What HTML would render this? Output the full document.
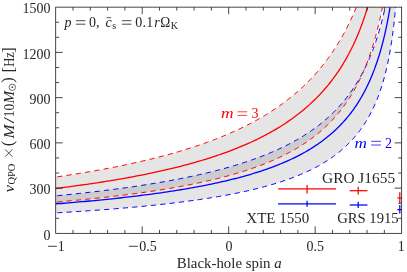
<!DOCTYPE html><html><head><meta charset="utf-8"><style>html,body{margin:0;padding:0;background:#fff}svg{display:block}text{font-family:"Liberation Serif",serif;font-size:14px;fill:#262626}.i{font-style:italic}</style></head><body>
<svg width="407" height="272" viewBox="0 0 407 272" style="will-change:transform">
<rect width="407" height="272" fill="#fff"/>
<defs><clipPath id="c"><rect x="55.70" y="7.15" width="345.95" height="226.20"/></clipPath></defs>
<g clip-path="url(#c)" fill="none">
<path d="M55.70,177.07 L58.37,176.68 L61.02,176.29 L63.67,175.89 L66.30,175.49 L68.92,175.08 L71.54,174.67 L74.14,174.26 L76.74,173.84 L79.32,173.42 L81.89,173.00 L84.45,172.57 L87.01,172.14 L89.55,171.70 L92.08,171.26 L94.60,170.82 L97.11,170.37 L99.61,169.92 L102.10,169.46 L104.58,169.00 L107.05,168.54 L109.51,168.07 L111.96,167.59 L114.40,167.11 L116.83,166.63 L119.25,166.14 L121.65,165.65 L124.05,165.16 L126.44,164.65 L128.82,164.15 L131.18,163.64 L133.54,163.12 L135.88,162.60 L138.22,162.07 L140.55,161.54 L142.86,161.01 L145.17,160.46 L147.46,159.92 L149.74,159.36 L152.02,158.81 L154.28,158.24 L156.53,157.68 L158.78,157.10 L161.01,156.52 L163.23,155.94 L165.44,155.35 L167.65,154.75 L169.84,154.15 L172.02,153.54 L174.19,152.92 L176.35,152.30 L178.50,151.67 L180.64,151.04 L182.77,150.40 L184.89,149.75 L187.00,149.10 L189.09,148.44 L191.18,147.77 L193.26,147.10 L195.33,146.42 L197.38,145.73 L199.43,145.04 L201.47,144.34 L203.49,143.63 L205.51,142.91 L207.52,142.19 L209.51,141.46 L211.50,140.72 L213.47,139.98 L215.44,139.22 L217.39,138.46 L219.33,137.69 L221.27,136.92 L223.19,136.13 L225.10,135.34 L227.01,134.53 L228.90,133.72 L230.78,132.90 L232.65,132.08 L234.51,131.24 L236.36,130.39 L238.20,129.54 L240.03,128.68 L241.85,127.80 L243.66,126.92 L245.46,126.03 L247.25,125.13 L249.03,124.22 L250.80,123.29 L252.56,122.36 L254.31,121.42 L256.04,120.47 L257.77,119.51 L259.49,118.53 L261.19,117.55 L262.89,116.56 L264.58,115.55 L266.25,114.53 L267.92,113.51 L269.57,112.47 L271.22,111.42 L272.85,110.35 L274.48,109.28 L276.09,108.19 L277.69,107.09 L279.29,105.98 L280.87,104.86 L282.44,103.72 L284.00,102.57 L285.56,101.41 L287.10,100.23 L288.63,99.04 L290.15,97.84 L291.66,96.62 L293.16,95.39 L294.65,94.14 L296.13,92.88 L297.60,91.61 L299.06,90.32 L300.51,89.01 L301.95,87.69 L303.37,86.36 L304.79,85.01 L306.20,83.64 L307.60,82.25 L308.98,80.85 L310.36,79.44 L311.73,78.00 L313.08,76.55 L314.43,75.08 L315.76,73.60 L317.09,72.09 L318.40,70.57 L319.71,69.03 L321.00,67.47 L322.29,65.89 L323.56,64.29 L324.82,62.68 L326.08,61.04 L327.32,59.38 L328.55,57.70 L329.77,56.00 L330.98,54.28 L332.19,52.54 L333.38,50.78 L334.56,48.99 L335.73,47.18 L336.89,45.35 L338.04,43.50 L339.18,41.62 L340.31,39.72 L341.42,37.79 L342.53,35.84 L343.63,33.86 L344.72,31.86 L345.80,29.83 L346.86,27.78 L347.92,25.70 L348.97,23.59 L350.00,21.45 L351.03,19.29 L352.05,17.09 L353.05,14.87 L354.05,12.62 L355.03,10.34 L356.01,8.03 L356.97,5.68 L357.92,3.31 L358.87,0.90 L359.80,-1.54 L360.72,-4.01 L361.64,-6.52 L362.54,-9.06 L363.43,-11.64 L364.31,-14.25 L365.18,-16.90 L366.04,-19.58 L366.90,-22.31 L367.74,-25.07 L368.57,-27.87 L369.39,-30.71 L370.19,-33.59 L370.99,-36.51 L371.78,-39.48 L372.56,-42.49 L373.33,-45.54 L374.09,-48.64 L374.84,-51.78 L375.57,-54.96 L376.30,-58.20 L377.02,-61.48 L377.72,-64.82 L378.42,-68.20 L379.10,-71.63 L379.78,-75.12 L380.44,-78.66 L381.10,-82.26 L381.74,-85.91 L382.38,-89.61 L383.00,-93.38 L383.62,-97.20 L384.22,-101.09 L384.81,-105.04 L385.39,-109.05 L385.97,-113.13 L386.53,-117.27 L387.08,-121.48 L387.62,-125.76 L388.15,-130.12 L388.67,-134.55 L389.18,-139.05 L389.68,-143.63 L390.17,-148.29 L390.65,-153.03 L391.12,-157.85 L391.58,-162.76 L392.03,-167.76 L392.47,-172.84 L392.90,-178.02 L393.31,-183.30 L393.72,-188.68 L394.12,-194.15 L394.51,-199.74 L394.88,-205.43 L395.25,-211.23 L395.60,-217.15 L395.95,-223.19 L396.28,-229.35 L396.61,-235.64 L396.92,-242.06 L397.23,-248.61 L397.52,-255.31 L397.80,-262.16 L398.08,-269.16 L398.34,-276.32 L398.59,-283.65 L398.84,-291.15 L399.07,-298.83 L399.29,-306.70 L399.50,-314.76 L399.70,-323.03 L399.89,-331.52 L400.07,-340.23 L400.24,-349.18 L400.40,-358.36 L400.55,-367.81 L400.69,-377.52 L400.82,-387.50 L400.94,-397.76 L401.05,-408.30 L401.15,-419.11 L401.23,-430.17 L401.31,-441.42 L401.38,-452.78 L401.43,-464.08 L401.48,-475.02 L401.52,-485.10 L401.54,-493.56 L401.56,-499.34 L401.56,-501.41 L401.56,-50.00 L406.65,-50.00 L406.65,-294.25 L401.56,-294.25 L401.56,-293.58 L401.54,-291.64 L401.52,-288.59 L401.48,-284.64 L401.43,-279.97 L401.38,-274.75 L401.31,-269.11 L401.23,-263.16 L401.15,-256.97 L401.05,-250.61 L400.94,-244.12 L400.82,-237.56 L400.69,-230.95 L400.55,-224.31 L400.40,-217.67 L400.24,-211.05 L400.07,-204.46 L399.89,-197.91 L399.70,-191.42 L399.50,-184.98 L399.29,-178.62 L399.07,-172.33 L398.84,-166.11 L398.59,-159.98 L398.34,-153.93 L398.08,-147.97 L397.80,-142.10 L397.52,-136.31 L397.23,-130.62 L396.92,-125.02 L396.61,-119.51 L396.28,-114.09 L395.95,-108.76 L395.60,-103.52 L395.25,-98.37 L394.88,-93.32 L394.51,-88.35 L394.12,-83.47 L393.72,-78.67 L393.31,-73.96 L392.90,-69.34 L392.47,-64.80 L392.03,-60.34 L391.58,-55.96 L391.12,-51.66 L390.65,-47.44 L390.17,-43.30 L389.68,-39.23 L389.18,-35.23 L388.67,-31.31 L388.15,-27.46 L387.62,-23.68 L387.08,-19.97 L386.53,-16.33 L385.97,-12.75 L385.39,-9.24 L384.81,-5.79 L384.22,-2.41 L383.62,0.92 L383.00,4.18 L382.38,7.39 L381.74,10.53 L381.10,13.63 L380.44,16.66 L379.78,19.64 L379.10,22.57 L378.42,25.45 L377.72,28.27 L377.02,31.05 L376.30,33.78 L375.57,36.46 L374.84,39.09 L374.09,41.67 L373.33,44.22 L372.56,46.71 L371.78,49.17 L370.99,51.58 L370.19,53.95 L369.39,56.28 L368.57,58.57 L367.74,60.82 L366.90,63.03 L366.04,65.21 L365.18,67.35 L364.31,69.45 L363.43,71.52 L362.54,73.55 L361.64,75.55 L360.72,77.52 L359.80,79.45 L358.87,81.35 L357.92,83.23 L356.97,85.07 L356.01,86.88 L355.03,88.66 L354.05,90.41 L353.05,92.14 L352.05,93.83 L351.03,95.51 L350.00,97.15 L348.97,98.77 L347.92,100.36 L346.86,101.93 L345.80,103.47 L344.72,104.99 L343.63,106.48 L342.53,107.95 L341.42,109.40 L340.31,110.83 L339.18,112.24 L338.04,113.62 L336.89,114.98 L335.73,116.32 L334.56,117.65 L333.38,118.95 L332.19,120.23 L330.98,121.49 L329.77,122.74 L328.55,123.96 L327.32,125.17 L326.08,126.36 L324.82,127.53 L323.56,128.69 L322.29,129.83 L321.00,130.95 L319.71,132.06 L318.40,133.15 L317.09,134.22 L315.76,135.28 L314.43,136.33 L313.08,137.36 L311.73,138.37 L310.36,139.37 L308.98,140.36 L307.60,141.33 L306.20,142.29 L304.79,143.24 L303.37,144.17 L301.95,145.09 L300.51,146.00 L299.06,146.89 L297.60,147.77 L296.13,148.64 L294.65,149.50 L293.16,150.35 L291.66,151.19 L290.15,152.01 L288.63,152.82 L287.10,153.63 L285.56,154.42 L284.00,155.20 L282.44,155.97 L280.87,156.73 L279.29,157.49 L277.69,158.23 L276.09,158.96 L274.48,159.68 L272.85,160.39 L271.22,161.10 L269.57,161.79 L267.92,162.48 L266.25,163.16 L264.58,163.82 L262.89,164.48 L261.19,165.14 L259.49,165.78 L257.77,166.41 L256.04,167.04 L254.31,167.66 L252.56,168.27 L250.80,168.88 L249.03,169.47 L247.25,170.06 L245.46,170.65 L243.66,171.22 L241.85,171.79 L240.03,172.35 L238.20,172.91 L236.36,173.45 L234.51,173.99 L232.65,174.53 L230.78,175.06 L228.90,175.58 L227.01,176.09 L225.10,176.60 L223.19,177.11 L221.27,177.61 L219.33,178.10 L217.39,178.58 L215.44,179.06 L213.47,179.54 L211.50,180.01 L209.51,180.47 L207.52,180.93 L205.51,181.38 L203.49,181.83 L201.47,182.27 L199.43,182.71 L197.38,183.14 L195.33,183.57 L193.26,183.99 L191.18,184.41 L189.09,184.83 L187.00,185.24 L184.89,185.64 L182.77,186.04 L180.64,186.43 L178.50,186.83 L176.35,187.21 L174.19,187.59 L172.02,187.97 L169.84,188.35 L167.65,188.72 L165.44,189.08 L163.23,189.44 L161.01,189.80 L158.78,190.16 L156.53,190.51 L154.28,190.85 L152.02,191.20 L149.74,191.53 L147.46,191.87 L145.17,192.20 L142.86,192.53 L140.55,192.86 L138.22,193.18 L135.88,193.50 L133.54,193.81 L131.18,194.12 L128.82,194.43 L126.44,194.73 L124.05,195.04 L121.65,195.33 L119.25,195.63 L116.83,195.92 L114.40,196.21 L111.96,196.50 L109.51,196.78 L107.05,197.06 L104.58,197.34 L102.10,197.62 L99.61,197.89 L97.11,198.16 L94.60,198.42 L92.08,198.69 L89.55,198.95 L87.01,199.21 L84.45,199.47 L81.89,199.72 L79.32,199.97 L76.74,200.22 L74.14,200.46 L71.54,200.71 L68.92,200.95 L66.30,201.19 L63.67,201.43 L61.02,201.66 L58.37,201.89 L55.70,202.12Z" fill="#000" fill-opacity="0.1"/>
<path d="M55.70,195.86 L58.37,195.60 L61.02,195.34 L63.67,195.07 L66.30,194.81 L68.92,194.54 L71.54,194.27 L74.14,193.99 L76.74,193.72 L79.32,193.44 L81.89,193.16 L84.45,192.88 L87.01,192.59 L89.55,192.30 L92.08,192.01 L94.60,191.71 L97.11,191.42 L99.61,191.12 L102.10,190.82 L104.58,190.51 L107.05,190.20 L109.51,189.89 L111.96,189.58 L114.40,189.26 L116.83,188.94 L119.25,188.62 L121.65,188.29 L124.05,187.96 L126.44,187.63 L128.82,187.30 L131.18,186.96 L133.54,186.62 L135.88,186.27 L138.22,185.92 L140.55,185.57 L142.86,185.22 L145.17,184.86 L147.46,184.50 L149.74,184.13 L152.02,183.76 L154.28,183.39 L156.53,183.01 L158.78,182.63 L161.01,182.25 L163.23,181.86 L165.44,181.47 L167.65,181.08 L169.84,180.68 L172.02,180.27 L174.19,179.87 L176.35,179.46 L178.50,179.04 L180.64,178.62 L182.77,178.20 L184.89,177.77 L187.00,177.34 L189.09,176.90 L191.18,176.46 L193.26,176.02 L195.33,175.57 L197.38,175.12 L199.43,174.66 L201.47,174.19 L203.49,173.73 L205.51,173.25 L207.52,172.77 L209.51,172.29 L211.50,171.80 L213.47,171.31 L215.44,170.81 L217.39,170.31 L219.33,169.80 L221.27,169.29 L223.19,168.77 L225.10,168.25 L227.01,167.72 L228.90,167.18 L230.78,166.64 L232.65,166.09 L234.51,165.54 L236.36,164.98 L238.20,164.42 L240.03,163.85 L241.85,163.27 L243.66,162.69 L245.46,162.10 L247.25,161.50 L249.03,160.90 L250.80,160.29 L252.56,159.68 L254.31,159.06 L256.04,158.43 L257.77,157.79 L259.49,157.15 L261.19,156.50 L262.89,155.85 L264.58,155.18 L266.25,154.51 L267.92,153.83 L269.57,153.15 L271.22,152.45 L272.85,151.75 L274.48,151.04 L276.09,150.33 L277.69,149.60 L279.29,148.87 L280.87,148.13 L282.44,147.38 L284.00,146.62 L285.56,145.85 L287.10,145.08 L288.63,144.29 L290.15,143.50 L291.66,142.69 L293.16,141.88 L294.65,141.06 L296.13,140.23 L297.60,139.39 L299.06,138.54 L300.51,137.68 L301.95,136.81 L303.37,135.92 L304.79,135.03 L306.20,134.13 L307.60,133.22 L308.98,132.29 L310.36,131.36 L311.73,130.41 L313.08,129.46 L314.43,128.49 L315.76,127.51 L317.09,126.52 L318.40,125.51 L319.71,124.50 L321.00,123.47 L322.29,122.42 L323.56,121.37 L324.82,120.30 L326.08,119.22 L327.32,118.13 L328.55,117.02 L329.77,115.90 L330.98,114.76 L332.19,113.62 L333.38,112.45 L334.56,111.27 L335.73,110.08 L336.89,108.87 L338.04,107.65 L339.18,106.41 L340.31,105.15 L341.42,103.88 L342.53,102.59 L343.63,101.28 L344.72,99.96 L345.80,98.62 L346.86,97.26 L347.92,95.89 L348.97,94.50 L350.00,93.08 L351.03,91.65 L352.05,90.20 L353.05,88.73 L354.05,87.25 L355.03,85.74 L356.01,84.21 L356.97,82.66 L357.92,81.08 L358.87,79.49 L359.80,77.87 L360.72,76.24 L361.64,74.58 L362.54,72.89 L363.43,71.18 L364.31,69.45 L365.18,67.70 L366.04,65.91 L366.90,64.11 L367.74,62.27 L368.57,60.41 L369.39,58.53 L370.19,56.61 L370.99,54.67 L371.78,52.70 L372.56,50.70 L373.33,48.67 L374.09,46.61 L374.84,44.51 L375.57,42.39 L376.30,40.23 L377.02,38.04 L377.72,35.82 L378.42,33.56 L379.10,31.27 L379.78,28.94 L380.44,26.57 L381.10,24.16 L381.74,21.72 L382.38,19.23 L383.00,16.71 L383.62,14.14 L384.22,11.53 L384.81,8.88 L385.39,6.18 L385.97,3.44 L386.53,0.65 L387.08,-2.19 L387.62,-5.08 L388.15,-8.02 L388.67,-11.02 L389.18,-14.06 L389.68,-17.17 L390.17,-20.33 L390.65,-23.55 L391.12,-26.83 L391.58,-30.17 L392.03,-33.57 L392.47,-37.05 L392.90,-40.59 L393.31,-44.20 L393.72,-47.88 L394.12,-51.64 L394.51,-55.48 L394.88,-59.40 L395.25,-63.40 L395.60,-67.49 L395.95,-71.67 L396.28,-75.94 L396.61,-80.31 L396.92,-84.78 L397.23,-89.35 L397.52,-94.04 L397.80,-98.84 L398.08,-103.75 L398.34,-108.80 L398.59,-113.97 L398.84,-119.27 L399.07,-124.72 L399.29,-130.32 L399.50,-136.08 L399.70,-142.00 L399.89,-148.09 L400.07,-154.36 L400.24,-160.83 L400.40,-167.49 L400.55,-174.37 L400.69,-181.46 L400.82,-188.78 L400.94,-196.34 L401.05,-204.13 L401.15,-212.16 L401.23,-220.40 L401.31,-228.84 L401.38,-237.39 L401.43,-245.94 L401.48,-254.25 L401.52,-261.94 L401.54,-268.42 L401.56,-272.86 L401.56,-274.46 L401.56,-50.00 L406.65,-50.00 L406.65,-273.14 L401.56,-273.14 L401.56,-270.18 L401.54,-262.04 L401.52,-250.37 L401.48,-236.82 L401.43,-222.56 L401.38,-208.31 L401.31,-194.43 L401.23,-181.13 L401.15,-168.48 L401.05,-156.49 L400.94,-145.15 L400.82,-134.44 L400.69,-124.31 L400.55,-114.72 L400.40,-105.65 L400.24,-97.04 L400.07,-88.86 L399.89,-81.08 L399.70,-73.68 L399.50,-66.62 L399.29,-59.88 L399.07,-53.43 L398.84,-47.26 L398.59,-41.35 L398.34,-35.67 L398.08,-30.22 L397.80,-24.98 L397.52,-19.94 L397.23,-15.07 L396.92,-10.38 L396.61,-5.85 L396.28,-1.48 L395.95,2.75 L395.60,6.85 L395.25,10.82 L394.88,14.66 L394.51,18.39 L394.12,22.01 L393.72,25.53 L393.31,28.95 L392.90,32.27 L392.47,35.51 L392.03,38.65 L391.58,41.72 L391.12,44.71 L390.65,47.62 L390.17,50.47 L389.68,53.24 L389.18,55.95 L388.67,58.59 L388.15,61.18 L387.62,63.70 L387.08,66.17 L386.53,68.59 L385.97,70.95 L385.39,73.27 L384.81,75.53 L384.22,77.75 L383.62,79.92 L383.00,82.05 L382.38,84.13 L381.74,86.18 L381.10,88.18 L380.44,90.15 L379.78,92.07 L379.10,93.97 L378.42,95.82 L377.72,97.64 L377.02,99.43 L376.30,101.19 L375.57,102.91 L374.84,104.61 L374.09,106.27 L373.33,107.90 L372.56,109.51 L371.78,111.09 L370.99,112.64 L370.19,114.16 L369.39,115.66 L368.57,117.14 L367.74,118.59 L366.90,120.01 L366.04,121.41 L365.18,122.79 L364.31,124.15 L363.43,125.49 L362.54,126.80 L361.64,128.09 L360.72,129.36 L359.80,130.62 L358.87,131.85 L357.92,133.06 L356.97,134.26 L356.01,135.43 L355.03,136.59 L354.05,137.73 L353.05,138.85 L352.05,139.96 L351.03,141.05 L350.00,142.12 L348.97,143.18 L347.92,144.22 L346.86,145.25 L345.80,146.26 L344.72,147.25 L343.63,148.23 L342.53,149.20 L341.42,150.15 L340.31,151.09 L339.18,152.02 L338.04,152.93 L336.89,153.83 L335.73,154.72 L334.56,155.59 L333.38,156.45 L332.19,157.30 L330.98,158.14 L329.77,158.96 L328.55,159.78 L327.32,160.58 L326.08,161.37 L324.82,162.15 L323.56,162.92 L322.29,163.68 L321.00,164.43 L319.71,165.17 L318.40,165.90 L317.09,166.62 L315.76,167.33 L314.43,168.03 L313.08,168.72 L311.73,169.40 L310.36,170.07 L308.98,170.73 L307.60,171.39 L306.20,172.03 L304.79,172.67 L303.37,173.30 L301.95,173.92 L300.51,174.53 L299.06,175.13 L297.60,175.73 L296.13,176.32 L294.65,176.90 L293.16,177.47 L291.66,178.04 L290.15,178.60 L288.63,179.15 L287.10,179.69 L285.56,180.23 L284.00,180.76 L282.44,181.28 L280.87,181.80 L279.29,182.31 L277.69,182.82 L276.09,183.31 L274.48,183.80 L272.85,184.29 L271.22,184.77 L269.57,185.24 L267.92,185.71 L266.25,186.17 L264.58,186.63 L262.89,187.08 L261.19,187.52 L259.49,187.96 L257.77,188.40 L256.04,188.83 L254.31,189.25 L252.56,189.67 L250.80,190.08 L249.03,190.49 L247.25,190.89 L245.46,191.29 L243.66,191.68 L241.85,192.07 L240.03,192.46 L238.20,192.84 L236.36,193.21 L234.51,193.58 L232.65,193.95 L230.78,194.31 L228.90,194.67 L227.01,195.02 L225.10,195.37 L223.19,195.72 L221.27,196.06 L219.33,196.40 L217.39,196.73 L215.44,197.06 L213.47,197.39 L211.50,197.71 L209.51,198.03 L207.52,198.34 L205.51,198.65 L203.49,198.96 L201.47,199.26 L199.43,199.57 L197.38,199.86 L195.33,200.16 L193.26,200.45 L191.18,200.73 L189.09,201.02 L187.00,201.30 L184.89,201.58 L182.77,201.85 L180.64,202.12 L178.50,202.39 L176.35,202.66 L174.19,202.92 L172.02,203.18 L169.84,203.44 L167.65,203.69 L165.44,203.94 L163.23,204.19 L161.01,204.44 L158.78,204.68 L156.53,204.92 L154.28,205.16 L152.02,205.39 L149.74,205.63 L147.46,205.86 L145.17,206.08 L142.86,206.31 L140.55,206.53 L138.22,206.75 L135.88,206.97 L133.54,207.19 L131.18,207.40 L128.82,207.61 L126.44,207.82 L124.05,208.03 L121.65,208.23 L119.25,208.44 L116.83,208.64 L114.40,208.83 L111.96,209.03 L109.51,209.22 L107.05,209.42 L104.58,209.61 L102.10,209.80 L99.61,209.98 L97.11,210.17 L94.60,210.35 L92.08,210.53 L89.55,210.71 L87.01,210.89 L84.45,211.06 L81.89,211.23 L79.32,211.41 L76.74,211.58 L74.14,211.74 L71.54,211.91 L68.92,212.08 L66.30,212.24 L63.67,212.40 L61.02,212.56 L58.37,212.72 L55.70,212.88Z" fill="#000" fill-opacity="0.1"/>
<path d="M55.70,212.88 L58.37,212.72 L61.02,212.56 L63.67,212.40 L66.30,212.24 L68.92,212.08 L71.54,211.91 L74.14,211.74 L76.74,211.58 L79.32,211.41 L81.89,211.23 L84.45,211.06 L87.01,210.89 L89.55,210.71 L92.08,210.53 L94.60,210.35 L97.11,210.17 L99.61,209.98 L102.10,209.80 L104.58,209.61 L107.05,209.42 L109.51,209.22 L111.96,209.03 L114.40,208.83 L116.83,208.64 L119.25,208.44 L121.65,208.23 L124.05,208.03 L126.44,207.82 L128.82,207.61 L131.18,207.40 L133.54,207.19 L135.88,206.97 L138.22,206.75 L140.55,206.53 L142.86,206.31 L145.17,206.08 L147.46,205.86 L149.74,205.63 L152.02,205.39 L154.28,205.16 L156.53,204.92 L158.78,204.68 L161.01,204.44 L163.23,204.19 L165.44,203.94 L167.65,203.69 L169.84,203.44 L172.02,203.18 L174.19,202.92 L176.35,202.66 L178.50,202.39 L180.64,202.12 L182.77,201.85 L184.89,201.58 L187.00,201.30 L189.09,201.02 L191.18,200.73 L193.26,200.45 L195.33,200.16 L197.38,199.86 L199.43,199.57 L201.47,199.26 L203.49,198.96 L205.51,198.65 L207.52,198.34 L209.51,198.03 L211.50,197.71 L213.47,197.39 L215.44,197.06 L217.39,196.73 L219.33,196.40 L221.27,196.06 L223.19,195.72 L225.10,195.37 L227.01,195.02 L228.90,194.67 L230.78,194.31 L232.65,193.95 L234.51,193.58 L236.36,193.21 L238.20,192.84 L240.03,192.46 L241.85,192.07 L243.66,191.68 L245.46,191.29 L247.25,190.89 L249.03,190.49 L250.80,190.08 L252.56,189.67 L254.31,189.25 L256.04,188.83 L257.77,188.40 L259.49,187.96 L261.19,187.52 L262.89,187.08 L264.58,186.63 L266.25,186.17 L267.92,185.71 L269.57,185.24 L271.22,184.77 L272.85,184.29 L274.48,183.80 L276.09,183.31 L277.69,182.82 L279.29,182.31 L280.87,181.80 L282.44,181.28 L284.00,180.76 L285.56,180.23 L287.10,179.69 L288.63,179.15 L290.15,178.60 L291.66,178.04 L293.16,177.47 L294.65,176.90 L296.13,176.32 L297.60,175.73 L299.06,175.13 L300.51,174.53 L301.95,173.92 L303.37,173.30 L304.79,172.67 L306.20,172.03 L307.60,171.39 L308.98,170.73 L310.36,170.07 L311.73,169.40 L313.08,168.72 L314.43,168.03 L315.76,167.33 L317.09,166.62 L318.40,165.90 L319.71,165.17 L321.00,164.43 L322.29,163.68 L323.56,162.92 L324.82,162.15 L326.08,161.37 L327.32,160.58 L328.55,159.78 L329.77,158.96 L330.98,158.14 L332.19,157.30 L333.38,156.45 L334.56,155.59 L335.73,154.72 L336.89,153.83 L338.04,152.93 L339.18,152.02 L340.31,151.09 L341.42,150.15 L342.53,149.20 L343.63,148.23 L344.72,147.25 L345.80,146.26 L346.86,145.25 L347.92,144.22 L348.97,143.18 L350.00,142.12 L351.03,141.05 L352.05,139.96 L353.05,138.85 L354.05,137.73 L355.03,136.59 L356.01,135.43 L356.97,134.26 L357.92,133.06 L358.87,131.85 L359.80,130.62 L360.72,129.36 L361.64,128.09 L362.54,126.80 L363.43,125.49 L364.31,124.15 L365.18,122.79 L366.04,121.41 L366.90,120.01 L367.74,118.59 L368.57,117.14 L369.39,115.66 L370.19,114.16 L370.99,112.64 L371.78,111.09 L372.56,109.51 L373.33,107.90 L374.09,106.27 L374.84,104.61 L375.57,102.91 L376.30,101.19 L377.02,99.43 L377.72,97.64 L378.42,95.82 L379.10,93.97 L379.78,92.07 L380.44,90.15 L381.10,88.18 L381.74,86.18 L382.38,84.13 L383.00,82.05 L383.62,79.92 L384.22,77.75 L384.81,75.53 L385.39,73.27 L385.97,70.95 L386.53,68.59 L387.08,66.17 L387.62,63.70 L388.15,61.18 L388.67,58.59 L389.18,55.95 L389.68,53.24 L390.17,50.47 L390.65,47.62 L391.12,44.71 L391.58,41.72 L392.03,38.65 L392.47,35.51 L392.90,32.27 L393.31,28.95 L393.72,25.53 L394.12,22.01 L394.51,18.39 L394.88,14.66 L395.25,10.82 L395.60,6.85 L395.95,2.75 L396.28,-1.48 L396.61,-5.85 L396.92,-10.38 L397.23,-15.07 L397.52,-19.94 L397.80,-24.98 L398.08,-30.22 L398.34,-35.67 L398.59,-41.35 L398.84,-47.26 L399.07,-53.43 L399.29,-59.88 L399.50,-66.62 L399.70,-73.68 L399.89,-81.08 L400.07,-88.86 L400.24,-97.04 L400.40,-105.65 L400.55,-114.72 L400.69,-124.31 L400.82,-134.44 L400.94,-145.15 L401.05,-156.49 L401.15,-168.48 L401.23,-181.13 L401.31,-194.43 L401.38,-208.31 L401.43,-222.56 L401.48,-236.82 L401.52,-250.37 L401.54,-262.04 L401.56,-270.18 L401.56,-273.14" stroke="#0000ff" stroke-width="1.0" stroke-dasharray="5.2 4.2" stroke-dashoffset="-1.5"/>
<path d="M55.70,195.86 L58.37,195.60 L61.02,195.34 L63.67,195.07 L66.30,194.81 L68.92,194.54 L71.54,194.27 L74.14,193.99 L76.74,193.72 L79.32,193.44 L81.89,193.16 L84.45,192.88 L87.01,192.59 L89.55,192.30 L92.08,192.01 L94.60,191.71 L97.11,191.42 L99.61,191.12 L102.10,190.82 L104.58,190.51 L107.05,190.20 L109.51,189.89 L111.96,189.58 L114.40,189.26 L116.83,188.94 L119.25,188.62 L121.65,188.29 L124.05,187.96 L126.44,187.63 L128.82,187.30 L131.18,186.96 L133.54,186.62 L135.88,186.27 L138.22,185.92 L140.55,185.57 L142.86,185.22 L145.17,184.86 L147.46,184.50 L149.74,184.13 L152.02,183.76 L154.28,183.39 L156.53,183.01 L158.78,182.63 L161.01,182.25 L163.23,181.86 L165.44,181.47 L167.65,181.08 L169.84,180.68 L172.02,180.27 L174.19,179.87 L176.35,179.46 L178.50,179.04 L180.64,178.62 L182.77,178.20 L184.89,177.77 L187.00,177.34 L189.09,176.90 L191.18,176.46 L193.26,176.02 L195.33,175.57 L197.38,175.12 L199.43,174.66 L201.47,174.19 L203.49,173.73 L205.51,173.25 L207.52,172.77 L209.51,172.29 L211.50,171.80 L213.47,171.31 L215.44,170.81 L217.39,170.31 L219.33,169.80 L221.27,169.29 L223.19,168.77 L225.10,168.25 L227.01,167.72 L228.90,167.18 L230.78,166.64 L232.65,166.09 L234.51,165.54 L236.36,164.98 L238.20,164.42 L240.03,163.85 L241.85,163.27 L243.66,162.69 L245.46,162.10 L247.25,161.50 L249.03,160.90 L250.80,160.29 L252.56,159.68 L254.31,159.06 L256.04,158.43 L257.77,157.79 L259.49,157.15 L261.19,156.50 L262.89,155.85 L264.58,155.18 L266.25,154.51 L267.92,153.83 L269.57,153.15 L271.22,152.45 L272.85,151.75 L274.48,151.04 L276.09,150.33 L277.69,149.60 L279.29,148.87 L280.87,148.13 L282.44,147.38 L284.00,146.62 L285.56,145.85 L287.10,145.08 L288.63,144.29 L290.15,143.50 L291.66,142.69 L293.16,141.88 L294.65,141.06 L296.13,140.23 L297.60,139.39 L299.06,138.54 L300.51,137.68 L301.95,136.81 L303.37,135.92 L304.79,135.03 L306.20,134.13 L307.60,133.22 L308.98,132.29 L310.36,131.36 L311.73,130.41 L313.08,129.46 L314.43,128.49 L315.76,127.51 L317.09,126.52 L318.40,125.51 L319.71,124.50 L321.00,123.47 L322.29,122.42 L323.56,121.37 L324.82,120.30 L326.08,119.22 L327.32,118.13 L328.55,117.02 L329.77,115.90 L330.98,114.76 L332.19,113.62 L333.38,112.45 L334.56,111.27 L335.73,110.08 L336.89,108.87 L338.04,107.65 L339.18,106.41 L340.31,105.15 L341.42,103.88 L342.53,102.59 L343.63,101.28 L344.72,99.96 L345.80,98.62 L346.86,97.26 L347.92,95.89 L348.97,94.50 L350.00,93.08 L351.03,91.65 L352.05,90.20 L353.05,88.73 L354.05,87.25 L355.03,85.74 L356.01,84.21 L356.97,82.66 L357.92,81.08 L358.87,79.49 L359.80,77.87 L360.72,76.24 L361.64,74.58 L362.54,72.89 L363.43,71.18 L364.31,69.45 L365.18,67.70 L366.04,65.91 L366.90,64.11 L367.74,62.27 L368.57,60.41 L369.39,58.53 L370.19,56.61 L370.99,54.67 L371.78,52.70 L372.56,50.70 L373.33,48.67 L374.09,46.61 L374.84,44.51 L375.57,42.39 L376.30,40.23 L377.02,38.04 L377.72,35.82 L378.42,33.56 L379.10,31.27 L379.78,28.94 L380.44,26.57 L381.10,24.16 L381.74,21.72 L382.38,19.23 L383.00,16.71 L383.62,14.14 L384.22,11.53 L384.81,8.88 L385.39,6.18 L385.97,3.44 L386.53,0.65 L387.08,-2.19 L387.62,-5.08 L388.15,-8.02 L388.67,-11.02 L389.18,-14.06 L389.68,-17.17 L390.17,-20.33 L390.65,-23.55 L391.12,-26.83 L391.58,-30.17 L392.03,-33.57 L392.47,-37.05 L392.90,-40.59 L393.31,-44.20 L393.72,-47.88 L394.12,-51.64 L394.51,-55.48 L394.88,-59.40 L395.25,-63.40 L395.60,-67.49 L395.95,-71.67 L396.28,-75.94 L396.61,-80.31 L396.92,-84.78 L397.23,-89.35 L397.52,-94.04 L397.80,-98.84 L398.08,-103.75 L398.34,-108.80 L398.59,-113.97 L398.84,-119.27 L399.07,-124.72 L399.29,-130.32 L399.50,-136.08 L399.70,-142.00 L399.89,-148.09 L400.07,-154.36 L400.24,-160.83 L400.40,-167.49 L400.55,-174.37 L400.69,-181.46 L400.82,-188.78 L400.94,-196.34 L401.05,-204.13 L401.15,-212.16 L401.23,-220.40 L401.31,-228.84 L401.38,-237.39 L401.43,-245.94 L401.48,-254.25 L401.52,-261.94 L401.54,-268.42 L401.56,-272.86 L401.56,-274.46" stroke="#0000ff" stroke-width="1.0" stroke-dasharray="5.2 4.2" stroke-dashoffset="-1.5"/>
<path d="M55.70,202.12 L58.37,201.89 L61.02,201.66 L63.67,201.43 L66.30,201.19 L68.92,200.95 L71.54,200.71 L74.14,200.46 L76.74,200.22 L79.32,199.97 L81.89,199.72 L84.45,199.47 L87.01,199.21 L89.55,198.95 L92.08,198.69 L94.60,198.42 L97.11,198.16 L99.61,197.89 L102.10,197.62 L104.58,197.34 L107.05,197.06 L109.51,196.78 L111.96,196.50 L114.40,196.21 L116.83,195.92 L119.25,195.63 L121.65,195.33 L124.05,195.04 L126.44,194.73 L128.82,194.43 L131.18,194.12 L133.54,193.81 L135.88,193.50 L138.22,193.18 L140.55,192.86 L142.86,192.53 L145.17,192.20 L147.46,191.87 L149.74,191.53 L152.02,191.20 L154.28,190.85 L156.53,190.51 L158.78,190.16 L161.01,189.80 L163.23,189.44 L165.44,189.08 L167.65,188.72 L169.84,188.35 L172.02,187.97 L174.19,187.59 L176.35,187.21 L178.50,186.83 L180.64,186.43 L182.77,186.04 L184.89,185.64 L187.00,185.24 L189.09,184.83 L191.18,184.41 L193.26,183.99 L195.33,183.57 L197.38,183.14 L199.43,182.71 L201.47,182.27 L203.49,181.83 L205.51,181.38 L207.52,180.93 L209.51,180.47 L211.50,180.01 L213.47,179.54 L215.44,179.06 L217.39,178.58 L219.33,178.10 L221.27,177.61 L223.19,177.11 L225.10,176.60 L227.01,176.09 L228.90,175.58 L230.78,175.06 L232.65,174.53 L234.51,173.99 L236.36,173.45 L238.20,172.91 L240.03,172.35 L241.85,171.79 L243.66,171.22 L245.46,170.65 L247.25,170.06 L249.03,169.47 L250.80,168.88 L252.56,168.27 L254.31,167.66 L256.04,167.04 L257.77,166.41 L259.49,165.78 L261.19,165.14 L262.89,164.48 L264.58,163.82 L266.25,163.16 L267.92,162.48 L269.57,161.79 L271.22,161.10 L272.85,160.39 L274.48,159.68 L276.09,158.96 L277.69,158.23 L279.29,157.49 L280.87,156.73 L282.44,155.97 L284.00,155.20 L285.56,154.42 L287.10,153.63 L288.63,152.82 L290.15,152.01 L291.66,151.19 L293.16,150.35 L294.65,149.50 L296.13,148.64 L297.60,147.77 L299.06,146.89 L300.51,146.00 L301.95,145.09 L303.37,144.17 L304.79,143.24 L306.20,142.29 L307.60,141.33 L308.98,140.36 L310.36,139.37 L311.73,138.37 L313.08,137.36 L314.43,136.33 L315.76,135.28 L317.09,134.22 L318.40,133.15 L319.71,132.06 L321.00,130.95 L322.29,129.83 L323.56,128.69 L324.82,127.53 L326.08,126.36 L327.32,125.17 L328.55,123.96 L329.77,122.74 L330.98,121.49 L332.19,120.23 L333.38,118.95 L334.56,117.65 L335.73,116.32 L336.89,114.98 L338.04,113.62 L339.18,112.24 L340.31,110.83 L341.42,109.40 L342.53,107.95 L343.63,106.48 L344.72,104.99 L345.80,103.47 L346.86,101.93 L347.92,100.36 L348.97,98.77 L350.00,97.15 L351.03,95.51 L352.05,93.83 L353.05,92.14 L354.05,90.41 L355.03,88.66 L356.01,86.88 L356.97,85.07 L357.92,83.23 L358.87,81.35 L359.80,79.45 L360.72,77.52 L361.64,75.55 L362.54,73.55 L363.43,71.52 L364.31,69.45 L365.18,67.35 L366.04,65.21 L366.90,63.03 L367.74,60.82 L368.57,58.57 L369.39,56.28 L370.19,53.95 L370.99,51.58 L371.78,49.17 L372.56,46.71 L373.33,44.22 L374.09,41.67 L374.84,39.09 L375.57,36.46 L376.30,33.78 L377.02,31.05 L377.72,28.27 L378.42,25.45 L379.10,22.57 L379.78,19.64 L380.44,16.66 L381.10,13.63 L381.74,10.53 L382.38,7.39 L383.00,4.18 L383.62,0.92 L384.22,-2.41 L384.81,-5.79 L385.39,-9.24 L385.97,-12.75 L386.53,-16.33 L387.08,-19.97 L387.62,-23.68 L388.15,-27.46 L388.67,-31.31 L389.18,-35.23 L389.68,-39.23 L390.17,-43.30 L390.65,-47.44 L391.12,-51.66 L391.58,-55.96 L392.03,-60.34 L392.47,-64.80 L392.90,-69.34 L393.31,-73.96 L393.72,-78.67 L394.12,-83.47 L394.51,-88.35 L394.88,-93.32 L395.25,-98.37 L395.60,-103.52 L395.95,-108.76 L396.28,-114.09 L396.61,-119.51 L396.92,-125.02 L397.23,-130.62 L397.52,-136.31 L397.80,-142.10 L398.08,-147.97 L398.34,-153.93 L398.59,-159.98 L398.84,-166.11 L399.07,-172.33 L399.29,-178.62 L399.50,-184.98 L399.70,-191.42 L399.89,-197.91 L400.07,-204.46 L400.24,-211.05 L400.40,-217.67 L400.55,-224.31 L400.69,-230.95 L400.82,-237.56 L400.94,-244.12 L401.05,-250.61 L401.15,-256.97 L401.23,-263.16 L401.31,-269.11 L401.38,-274.75 L401.43,-279.97 L401.48,-284.64 L401.52,-288.59 L401.54,-291.64 L401.56,-293.58 L401.56,-294.25" stroke="#ff0000" stroke-width="1.0" stroke-dasharray="5.2 4.2" stroke-dashoffset="-1.5"/>
<path d="M55.70,177.07 L58.37,176.68 L61.02,176.29 L63.67,175.89 L66.30,175.49 L68.92,175.08 L71.54,174.67 L74.14,174.26 L76.74,173.84 L79.32,173.42 L81.89,173.00 L84.45,172.57 L87.01,172.14 L89.55,171.70 L92.08,171.26 L94.60,170.82 L97.11,170.37 L99.61,169.92 L102.10,169.46 L104.58,169.00 L107.05,168.54 L109.51,168.07 L111.96,167.59 L114.40,167.11 L116.83,166.63 L119.25,166.14 L121.65,165.65 L124.05,165.16 L126.44,164.65 L128.82,164.15 L131.18,163.64 L133.54,163.12 L135.88,162.60 L138.22,162.07 L140.55,161.54 L142.86,161.01 L145.17,160.46 L147.46,159.92 L149.74,159.36 L152.02,158.81 L154.28,158.24 L156.53,157.68 L158.78,157.10 L161.01,156.52 L163.23,155.94 L165.44,155.35 L167.65,154.75 L169.84,154.15 L172.02,153.54 L174.19,152.92 L176.35,152.30 L178.50,151.67 L180.64,151.04 L182.77,150.40 L184.89,149.75 L187.00,149.10 L189.09,148.44 L191.18,147.77 L193.26,147.10 L195.33,146.42 L197.38,145.73 L199.43,145.04 L201.47,144.34 L203.49,143.63 L205.51,142.91 L207.52,142.19 L209.51,141.46 L211.50,140.72 L213.47,139.98 L215.44,139.22 L217.39,138.46 L219.33,137.69 L221.27,136.92 L223.19,136.13 L225.10,135.34 L227.01,134.53 L228.90,133.72 L230.78,132.90 L232.65,132.08 L234.51,131.24 L236.36,130.39 L238.20,129.54 L240.03,128.68 L241.85,127.80 L243.66,126.92 L245.46,126.03 L247.25,125.13 L249.03,124.22 L250.80,123.29 L252.56,122.36 L254.31,121.42 L256.04,120.47 L257.77,119.51 L259.49,118.53 L261.19,117.55 L262.89,116.56 L264.58,115.55 L266.25,114.53 L267.92,113.51 L269.57,112.47 L271.22,111.42 L272.85,110.35 L274.48,109.28 L276.09,108.19 L277.69,107.09 L279.29,105.98 L280.87,104.86 L282.44,103.72 L284.00,102.57 L285.56,101.41 L287.10,100.23 L288.63,99.04 L290.15,97.84 L291.66,96.62 L293.16,95.39 L294.65,94.14 L296.13,92.88 L297.60,91.61 L299.06,90.32 L300.51,89.01 L301.95,87.69 L303.37,86.36 L304.79,85.01 L306.20,83.64 L307.60,82.25 L308.98,80.85 L310.36,79.44 L311.73,78.00 L313.08,76.55 L314.43,75.08 L315.76,73.60 L317.09,72.09 L318.40,70.57 L319.71,69.03 L321.00,67.47 L322.29,65.89 L323.56,64.29 L324.82,62.68 L326.08,61.04 L327.32,59.38 L328.55,57.70 L329.77,56.00 L330.98,54.28 L332.19,52.54 L333.38,50.78 L334.56,48.99 L335.73,47.18 L336.89,45.35 L338.04,43.50 L339.18,41.62 L340.31,39.72 L341.42,37.79 L342.53,35.84 L343.63,33.86 L344.72,31.86 L345.80,29.83 L346.86,27.78 L347.92,25.70 L348.97,23.59 L350.00,21.45 L351.03,19.29 L352.05,17.09 L353.05,14.87 L354.05,12.62 L355.03,10.34 L356.01,8.03 L356.97,5.68 L357.92,3.31 L358.87,0.90 L359.80,-1.54 L360.72,-4.01 L361.64,-6.52 L362.54,-9.06 L363.43,-11.64 L364.31,-14.25 L365.18,-16.90 L366.04,-19.58 L366.90,-22.31 L367.74,-25.07 L368.57,-27.87 L369.39,-30.71 L370.19,-33.59 L370.99,-36.51 L371.78,-39.48 L372.56,-42.49 L373.33,-45.54 L374.09,-48.64 L374.84,-51.78 L375.57,-54.96 L376.30,-58.20 L377.02,-61.48 L377.72,-64.82 L378.42,-68.20 L379.10,-71.63 L379.78,-75.12 L380.44,-78.66 L381.10,-82.26 L381.74,-85.91 L382.38,-89.61 L383.00,-93.38 L383.62,-97.20 L384.22,-101.09 L384.81,-105.04 L385.39,-109.05 L385.97,-113.13 L386.53,-117.27 L387.08,-121.48 L387.62,-125.76 L388.15,-130.12 L388.67,-134.55 L389.18,-139.05 L389.68,-143.63 L390.17,-148.29 L390.65,-153.03 L391.12,-157.85 L391.58,-162.76 L392.03,-167.76 L392.47,-172.84 L392.90,-178.02 L393.31,-183.30 L393.72,-188.68 L394.12,-194.15 L394.51,-199.74 L394.88,-205.43 L395.25,-211.23 L395.60,-217.15 L395.95,-223.19 L396.28,-229.35 L396.61,-235.64 L396.92,-242.06 L397.23,-248.61 L397.52,-255.31 L397.80,-262.16 L398.08,-269.16 L398.34,-276.32 L398.59,-283.65 L398.84,-291.15 L399.07,-298.83 L399.29,-306.70 L399.50,-314.76 L399.70,-323.03 L399.89,-331.52 L400.07,-340.23 L400.24,-349.18 L400.40,-358.36 L400.55,-367.81 L400.69,-377.52 L400.82,-387.50 L400.94,-397.76 L401.05,-408.30 L401.15,-419.11 L401.23,-430.17 L401.31,-441.42 L401.38,-452.78 L401.43,-464.08 L401.48,-475.02 L401.52,-485.10 L401.54,-493.56 L401.56,-499.34 L401.56,-501.41" stroke="#ff0000" stroke-width="1.0" stroke-dasharray="5.2 4.2" stroke-dashoffset="-1.5"/>
<path d="M55.70,203.91 L58.37,203.70 L61.02,203.49 L63.67,203.27 L66.30,203.06 L68.92,202.84 L71.54,202.62 L74.14,202.40 L76.74,202.17 L79.32,201.95 L81.89,201.72 L84.45,201.49 L87.01,201.26 L89.55,201.02 L92.08,200.78 L94.60,200.54 L97.11,200.30 L99.61,200.06 L102.10,199.81 L104.58,199.56 L107.05,199.31 L109.51,199.05 L111.96,198.80 L114.40,198.54 L116.83,198.28 L119.25,198.01 L121.65,197.74 L124.05,197.47 L126.44,197.20 L128.82,196.93 L131.18,196.65 L133.54,196.37 L135.88,196.08 L138.22,195.80 L140.55,195.51 L142.86,195.22 L145.17,194.92 L147.46,194.62 L149.74,194.32 L152.02,194.02 L154.28,193.71 L156.53,193.40 L158.78,193.08 L161.01,192.77 L163.23,192.45 L165.44,192.12 L167.65,191.79 L169.84,191.46 L172.02,191.13 L174.19,190.79 L176.35,190.45 L178.50,190.10 L180.64,189.76 L182.77,189.40 L184.89,189.05 L187.00,188.69 L189.09,188.32 L191.18,187.96 L193.26,187.58 L195.33,187.21 L197.38,186.83 L199.43,186.44 L201.47,186.06 L203.49,185.66 L205.51,185.27 L207.52,184.86 L209.51,184.46 L211.50,184.05 L213.47,183.63 L215.44,183.22 L217.39,182.79 L219.33,182.36 L221.27,181.93 L223.19,181.49 L225.10,181.05 L227.01,180.60 L228.90,180.15 L230.78,179.69 L232.65,179.22 L234.51,178.75 L236.36,178.28 L238.20,177.80 L240.03,177.31 L241.85,176.82 L243.66,176.33 L245.46,175.82 L247.25,175.31 L249.03,174.80 L250.80,174.28 L252.56,173.75 L254.31,173.22 L256.04,172.68 L257.77,172.13 L259.49,171.58 L261.19,171.02 L262.89,170.46 L264.58,169.89 L266.25,169.31 L267.92,168.72 L269.57,168.13 L271.22,167.53 L272.85,166.92 L274.48,166.30 L276.09,165.68 L277.69,165.05 L279.29,164.41 L280.87,163.77 L282.44,163.11 L284.00,162.45 L285.56,161.78 L287.10,161.10 L288.63,160.41 L290.15,159.72 L291.66,159.01 L293.16,158.30 L294.65,157.58 L296.13,156.84 L297.60,156.10 L299.06,155.35 L300.51,154.59 L301.95,153.82 L303.37,153.04 L304.79,152.25 L306.20,151.45 L307.60,150.64 L308.98,149.82 L310.36,148.98 L311.73,148.14 L313.08,147.28 L314.43,146.42 L315.76,145.54 L317.09,144.65 L318.40,143.75 L319.71,142.83 L321.00,141.91 L322.29,140.97 L323.56,140.02 L324.82,139.05 L326.08,138.08 L327.32,137.09 L328.55,136.08 L329.77,135.06 L330.98,134.03 L332.19,132.98 L333.38,131.92 L334.56,130.85 L335.73,129.75 L336.89,128.65 L338.04,127.52 L339.18,126.39 L340.31,125.23 L341.42,124.06 L342.53,122.87 L343.63,121.67 L344.72,120.45 L345.80,119.21 L346.86,117.95 L347.92,116.68 L348.97,115.38 L350.00,114.07 L351.03,112.74 L352.05,111.39 L353.05,110.01 L354.05,108.62 L355.03,107.21 L356.01,105.78 L356.97,104.32 L357.92,102.85 L358.87,101.35 L359.80,99.83 L360.72,98.28 L361.64,96.72 L362.54,95.12 L363.43,93.51 L364.31,91.87 L365.18,90.21 L366.04,88.52 L366.90,86.80 L367.74,85.06 L368.57,83.29 L369.39,81.49 L370.19,79.67 L370.99,77.82 L371.78,75.94 L372.56,74.03 L373.33,72.09 L374.09,70.12 L374.84,68.12 L375.57,66.09 L376.30,64.03 L377.02,61.93 L377.72,59.81 L378.42,57.65 L379.10,55.45 L379.78,53.22 L380.44,50.96 L381.10,48.66 L381.74,46.33 L382.38,43.95 L383.00,41.55 L383.62,39.10 L384.22,36.62 L384.81,34.10 L385.39,31.54 L385.97,28.94 L386.53,26.30 L387.08,23.62 L387.62,20.90 L388.15,18.14 L388.67,15.33 L389.18,12.49 L389.68,9.60 L390.17,6.68 L390.65,3.71 L391.12,0.69 L391.58,-2.36 L392.03,-5.46 L392.47,-8.60 L392.90,-11.78 L393.31,-15.01 L393.72,-18.27 L394.12,-21.58 L394.51,-24.93 L394.88,-28.31 L395.25,-31.74 L395.60,-35.20 L395.95,-38.70 L396.28,-42.23 L396.61,-45.80 L396.92,-49.39 L397.23,-53.01 L397.52,-56.65 L397.80,-60.32 L398.08,-64.00 L398.34,-67.69 L398.59,-71.39 L398.84,-75.09 L399.07,-78.78 L399.29,-82.46 L399.50,-86.11 L399.70,-89.73 L399.89,-93.30 L400.07,-96.81 L400.24,-100.24 L400.40,-103.58 L400.55,-106.81 L400.69,-109.90 L400.82,-112.83 L400.94,-115.55 L401.05,-118.05 L401.15,-120.28 L401.23,-122.20 L401.31,-123.76 L401.38,-124.91 L401.43,-125.63 L401.48,-125.90 L401.52,-125.77 L401.54,-125.37 L401.56,-124.93 L401.56,-124.75" stroke="#0000ff" stroke-width="1.3"/>
<path d="M55.70,188.45 L58.37,188.12 L61.02,187.79 L63.67,187.45 L66.30,187.11 L68.92,186.77 L71.54,186.42 L74.14,186.08 L76.74,185.72 L79.32,185.37 L81.89,185.01 L84.45,184.65 L87.01,184.28 L89.55,183.91 L92.08,183.54 L94.60,183.16 L97.11,182.78 L99.61,182.40 L102.10,182.01 L104.58,181.62 L107.05,181.22 L109.51,180.83 L111.96,180.42 L114.40,180.02 L116.83,179.60 L119.25,179.19 L121.65,178.77 L124.05,178.35 L126.44,177.92 L128.82,177.49 L131.18,177.05 L133.54,176.61 L135.88,176.17 L138.22,175.72 L140.55,175.27 L142.86,174.81 L145.17,174.34 L147.46,173.88 L149.74,173.41 L152.02,172.93 L154.28,172.45 L156.53,171.96 L158.78,171.47 L161.01,170.97 L163.23,170.47 L165.44,169.96 L167.65,169.45 L169.84,168.93 L172.02,168.41 L174.19,167.88 L176.35,167.35 L178.50,166.81 L180.64,166.27 L182.77,165.72 L184.89,165.16 L187.00,164.60 L189.09,164.03 L191.18,163.46 L193.26,162.88 L195.33,162.29 L197.38,161.70 L199.43,161.10 L201.47,160.50 L203.49,159.89 L205.51,159.27 L207.52,158.65 L209.51,158.02 L211.50,157.38 L213.47,156.74 L215.44,156.09 L217.39,155.43 L219.33,154.76 L221.27,154.09 L223.19,153.41 L225.10,152.72 L227.01,152.03 L228.90,151.33 L230.78,150.62 L232.65,149.90 L234.51,149.18 L236.36,148.44 L238.20,147.70 L240.03,146.95 L241.85,146.20 L243.66,145.43 L245.46,144.66 L247.25,143.87 L249.03,143.08 L250.80,142.28 L252.56,141.47 L254.31,140.65 L256.04,139.82 L257.77,138.99 L259.49,138.14 L261.19,137.28 L262.89,136.42 L264.58,135.54 L266.25,134.65 L267.92,133.76 L269.57,132.85 L271.22,131.93 L272.85,131.01 L274.48,130.07 L276.09,129.12 L277.69,128.16 L279.29,127.19 L280.87,126.21 L282.44,125.21 L284.00,124.20 L285.56,123.19 L287.10,122.16 L288.63,121.11 L290.15,120.06 L291.66,118.99 L293.16,117.91 L294.65,116.82 L296.13,115.71 L297.60,114.59 L299.06,113.46 L300.51,112.31 L301.95,111.15 L303.37,109.97 L304.79,108.78 L306.20,107.58 L307.60,106.35 L308.98,105.12 L310.36,103.87 L311.73,102.60 L313.08,101.32 L314.43,100.02 L315.76,98.70 L317.09,97.37 L318.40,96.02 L319.71,94.65 L321.00,93.26 L322.29,91.86 L323.56,90.43 L324.82,88.99 L326.08,87.53 L327.32,86.05 L328.55,84.55 L329.77,83.03 L330.98,81.48 L332.19,79.92 L333.38,78.33 L334.56,76.72 L335.73,75.09 L336.89,73.44 L338.04,71.76 L339.18,70.06 L340.31,68.33 L341.42,66.58 L342.53,64.80 L343.63,63.00 L344.72,61.17 L345.80,59.31 L346.86,57.42 L347.92,55.50 L348.97,53.55 L350.00,51.57 L351.03,49.56 L352.05,47.52 L353.05,45.44 L354.05,43.33 L355.03,41.18 L356.01,39.00 L356.97,36.78 L357.92,34.52 L358.87,32.22 L359.80,29.88 L360.72,27.50 L361.64,25.08 L362.54,22.61 L363.43,20.09 L364.31,17.52 L365.18,14.91 L366.04,12.24 L366.90,9.52 L367.74,6.74 L368.57,3.91 L369.39,1.02 L370.19,-1.94 L370.99,-4.95 L371.78,-8.04 L372.56,-11.19 L373.33,-14.42 L374.09,-17.72 L374.84,-21.10 L375.57,-24.57 L376.30,-28.11 L377.02,-31.75 L377.72,-35.48 L378.42,-39.31 L379.10,-43.24 L379.78,-47.27 L380.44,-51.42 L381.10,-55.68 L381.74,-60.07 L382.38,-64.59 L383.00,-69.24 L383.62,-74.04 L384.22,-78.98 L384.81,-84.08 L385.39,-89.35 L385.97,-94.80 L386.53,-100.43 L387.08,-106.26 L387.62,-112.29 L388.15,-118.54 L388.67,-125.02 L389.18,-131.75 L389.68,-138.73 L390.17,-145.99 L390.65,-153.54 L391.12,-161.41 L391.58,-169.60 L392.03,-178.14 L392.47,-187.05 L392.90,-196.37 L393.31,-206.10 L393.72,-216.29 L394.12,-226.95 L394.51,-238.14 L394.88,-249.87 L395.25,-262.19 L395.60,-275.15 L395.95,-288.78 L396.28,-303.14 L396.61,-318.28 L396.92,-334.26 L397.23,-351.14 L397.52,-368.99 L397.80,-387.89 L398.08,-407.93 L398.34,-429.19 L398.59,-451.77 L398.84,-475.78 L399.07,-501.35 L399.29,-528.60 L399.50,-557.68 L399.70,-588.75 L399.89,-622.00 L400.07,-657.60 L400.24,-695.78 L400.40,-736.77 L400.55,-780.82 L400.69,-828.20 L400.82,-879.22 L400.94,-934.17 L401.05,-993.35 L401.15,-1057.02 L401.23,-1125.37 L401.31,-1198.41 L401.38,-1275.77 L401.43,-1356.45 L401.48,-1438.24 L401.52,-1516.91 L401.54,-1585.35 L401.56,-1633.45 L401.56,-1651.00" stroke="#ff0000" stroke-width="1.3"/>
</g>
<line x1="278.10" y1="188.90" x2="336.00" y2="188.90" stroke="#ff0000" stroke-width="1.25"/>
<line x1="307.10" y1="185.00" x2="307.10" y2="193.40" stroke="#ff0000" stroke-width="1.25"/>
<line x1="278.10" y1="203.90" x2="336.00" y2="203.90" stroke="#0000ff" stroke-width="1.25"/>
<line x1="307.10" y1="200.80" x2="307.10" y2="206.70" stroke="#0000ff" stroke-width="1.25"/>
<line x1="349.70" y1="190.70" x2="367.40" y2="190.70" stroke="#ff0000" stroke-width="1.25"/>
<line x1="358.20" y1="186.70" x2="358.20" y2="194.40" stroke="#ff0000" stroke-width="1.25"/>
<line x1="349.70" y1="205.00" x2="367.40" y2="205.00" stroke="#0000ff" stroke-width="1.25"/>
<line x1="358.20" y1="201.70" x2="358.20" y2="207.90" stroke="#0000ff" stroke-width="1.25"/>
<line x1="397.40" y1="198.00" x2="401.65" y2="198.00" stroke="#ff0000" stroke-width="1.25"/>
<line x1="399.80" y1="192.20" x2="399.80" y2="203.60" stroke="#ff0000" stroke-width="1.25"/>
<line x1="397.40" y1="209.60" x2="401.65" y2="209.60" stroke="#0000ff" stroke-width="1.25"/>
<line x1="399.80" y1="205.00" x2="399.80" y2="213.60" stroke="#0000ff" stroke-width="1.25"/>
<rect x="55.70" y="7.15" width="345.95" height="226.20" fill="none" stroke="#1a1a1a" stroke-width="0.8"/>
<path d="M73.00,233.35v-3.40M73.00,7.15v3.40M90.30,233.35v-3.40M90.30,7.15v3.40M107.59,233.35v-3.40M107.59,7.15v3.40M124.89,233.35v-3.40M124.89,7.15v3.40M142.19,233.35v-7.00M142.19,7.15v7.00M159.49,233.35v-3.40M159.49,7.15v3.40M176.78,233.35v-3.40M176.78,7.15v3.40M194.08,233.35v-3.40M194.08,7.15v3.40M211.38,233.35v-3.40M211.38,7.15v3.40M228.68,233.35v-7.00M228.68,7.15v7.00M245.97,233.35v-3.40M245.97,7.15v3.40M263.27,233.35v-3.40M263.27,7.15v3.40M280.57,233.35v-3.40M280.57,7.15v3.40M297.87,233.35v-3.40M297.87,7.15v3.40M315.16,233.35v-7.00M315.16,7.15v7.00M332.46,233.35v-3.40M332.46,7.15v3.40M349.76,233.35v-3.40M349.76,7.15v3.40M367.05,233.35v-3.40M367.05,7.15v3.40M384.35,233.35v-3.40M384.35,7.15v3.40M55.70,218.27h3.40M401.65,218.27h-3.40M55.70,203.19h3.40M401.65,203.19h-3.40M55.70,188.11h7.00M401.65,188.11h-7.00M55.70,173.03h3.40M401.65,173.03h-3.40M55.70,157.95h3.40M401.65,157.95h-3.40M55.70,142.87h7.00M401.65,142.87h-7.00M55.70,127.79h3.40M401.65,127.79h-3.40M55.70,112.71h3.40M401.65,112.71h-3.40M55.70,97.63h7.00M401.65,97.63h-7.00M55.70,82.55h3.40M401.65,82.55h-3.40M55.70,67.47h3.40M401.65,67.47h-3.40M55.70,52.39h7.00M401.65,52.39h-7.00M55.70,37.31h3.40M401.65,37.31h-3.40M55.70,22.23h3.40M401.65,22.23h-3.40" stroke="#1a1a1a" stroke-width="0.8" fill="none"/>
<text x="50.4" y="239.55" text-anchor="end">0</text>
<text x="50.4" y="194.31" text-anchor="end">300</text>
<text x="50.4" y="149.07" text-anchor="end">600</text>
<text x="50.4" y="103.83" text-anchor="end">900</text>
<text x="50.4" y="58.59" text-anchor="end">1200</text>
<text x="50.4" y="13.35" text-anchor="end">1500</text>
<line x1="47.90" y1="246.30" x2="56.90" y2="246.30" stroke="#111" stroke-width="0.8"/>
<text x="57.8" y="250.50">1</text>
<line x1="128.80" y1="246.30" x2="137.80" y2="246.30" stroke="#111" stroke-width="0.8"/>
<text x="139.2" y="250.50" textLength="17.5">0.5</text>
<text x="228.88" y="250.50" text-anchor="middle">0</text>
<text x="315.36" y="250.50" text-anchor="middle" textLength="17.5">0.5</text>
<text x="401.25" y="250.50" text-anchor="middle">1</text>
<text x="176.8" y="267.7" textLength="104.8" lengthAdjust="spacingAndGlyphs">Black-hole spin <tspan class="i">a</tspan></text>
<text class="i" x="64.4" y="27.10">p</text>
<path d="M75.9,20.7h9.5M75.9,24.2h9.5M121.9,20.7h9.5M121.9,24.2h9.5" stroke="#111" stroke-width="0.75" fill="none"/>
<text x="89" y="27.10">0,</text>
<text class="i" x="105.6" y="27.10">c</text>
<line x1="106.6" y1="17.7" x2="111.0" y2="17.7" stroke="#111" stroke-width="0.7"/>
<text x="112.2" y="28.90" style="font-size:10px">s</text>
<text x="135.3" y="27.10" textLength="18">0.1</text>
<text class="i" x="154.2" y="27.10">r</text>
<text x="160.2" y="27.10" textLength="10" lengthAdjust="spacingAndGlyphs">Ω</text>
<text x="170.8" y="28.90" style="font-size:10px">K</text>
<text class="i" x="221" y="118.1" style="fill:#ff0000" textLength="12.6" lengthAdjust="spacingAndGlyphs">m</text>
<path d="M237.5,111.8h9.7M237.5,115.4h9.7" stroke="#ff0000" stroke-width="0.75" fill="none"/>
<text x="251.6" y="118.1" style="fill:#ff0000">3</text>
<text class="i" x="354.4" y="147.5" style="fill:#0000ff" textLength="12.4" lengthAdjust="spacingAndGlyphs">m</text>
<path d="M371.2,141.3h9.8M371.2,145h9.8" stroke="#0000ff" stroke-width="0.75" fill="none"/>
<text x="384.9" y="147.5" style="fill:#0000ff">2</text>
<text x="322.1" y="182.7" textLength="73" lengthAdjust="spacingAndGlyphs">GRO J1655</text>
<text x="246.3" y="222.5" textLength="62.9" lengthAdjust="spacingAndGlyphs">XTE 1550</text>
<text x="337.2" y="222.8" textLength="61.5" lengthAdjust="spacingAndGlyphs">GRS 1915</text>
<g transform="translate(13.7,192) rotate(-90)">
<text class="i" x="-0.3" y="0" textLength="7.2" lengthAdjust="spacingAndGlyphs">ν</text>
<text x="7.4" y="1.4" style="font-size:10px" textLength="21" lengthAdjust="spacingAndGlyphs">QPO</text>
<path d="M35.3,-8.6l7.3,7.3M35.3,-1.3l7.3,-7.3" stroke="#111" stroke-width="0.75" fill="none"/>
<text x="45.8" y="-0.6" style="font-size:16.6px">(</text>
<text class="i" x="53.6" y="0" textLength="14" lengthAdjust="spacingAndGlyphs">M</text>
<text x="68.6" y="0" textLength="6.5" lengthAdjust="spacingAndGlyphs">/</text>
<text x="74.7" y="0" textLength="13.4" lengthAdjust="spacingAndGlyphs">10</text>
<text class="i" x="88.4" y="0" textLength="12.6" lengthAdjust="spacingAndGlyphs">M</text>
<circle cx="104.7" cy="-1.4" r="3.2" fill="none" stroke="#111" stroke-width="0.6"/><circle cx="104.7" cy="-1.4" r="0.8" fill="#111"/>
<text x="109.3" y="-0.6" style="font-size:16.6px">)</text>
<text x="119.5" y="0.5" style="font-size:16.6px">[</text>
<text x="125.2" y="0" textLength="14.6" lengthAdjust="spacingAndGlyphs">Hz</text>
<text x="139.3" y="0.5" style="font-size:16.6px">]</text>
</g>
</svg></body></html>
